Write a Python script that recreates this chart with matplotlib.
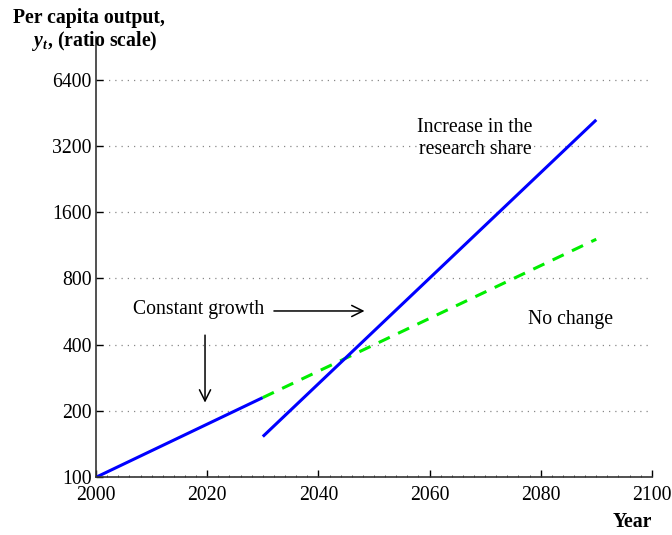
import matplotlib.pyplot as plt
from matplotlib.ticker import FixedLocator, MultipleLocator, NullLocator

# Per capita output paths (ratio scale)
years_before = [2000, 2030]
output_before = [100, 230]

years_no_change = [2030, 2090]
output_no_change = [230, 1205]

years_increase = [2030, 2090]
output_increase = [153, 4200]

y_ticks = [100, 200, 400, 800, 1600, 3200, 6400]
x_ticks = [2000, 2020, 2040, 2060, 2080, 2100]

plt.rcParams['font.family'] = ['Liberation Serif', 'DejaVu Serif']
plt.rcParams['mathtext.fontset'] = 'custom'
plt.rcParams['mathtext.rm'] = 'Liberation Serif'
plt.rcParams['mathtext.it'] = 'Liberation Serif:italic'
plt.rcParams['mathtext.bf'] = 'Liberation Serif:bold'
plt.rcParams['mathtext.bfit'] = 'Liberation Serif:italic:bold'

fs = 14.2

fig = plt.figure(figsize=(6.72, 5.35), dpi=100)
ax = fig.add_axes([0.143, 0.108, 0.827, 0.823])

ax.plot(years_before, output_before, color='#0000ff', lw=2.2, solid_capstyle='butt')
ax.plot(years_no_change, output_no_change, color='#00ee00', lw=2.2, ls=(0, (4, 3)))
ax.plot(years_increase, output_increase, color='#0000ff', lw=2.2, solid_capstyle='butt')

ax.set_yscale('log', base=2)
ax.set_ylim(100, 10000)
ax.set_xlim(2000, 2100)
ax.yaxis.set_major_locator(FixedLocator(y_ticks))
ax.yaxis.set_minor_locator(NullLocator())
ax.set_yticklabels([str(v) for v in y_ticks])
ax.xaxis.set_major_locator(FixedLocator(x_ticks))
ax.xaxis.set_minor_locator(MultipleLocator(2))
ax.tick_params(direction='in', labelsize=fs, length=5, width=1)
ax.tick_params(which='minor', direction='in', length=1.5, width=0.5)
ax.tick_params(axis='x', pad=6)
ax.tick_params(axis='y', pad=3)

for y in y_ticks:
    ax.axhline(y, color='#888888', lw=0.9, ls=(0, (1, 4)), zorder=0)

for side in ['top', 'right']:
    ax.spines[side].set_visible(False)
for side in ['left', 'bottom']:
    ax.spines[side].set_linewidth(1.2)
    ax.spines[side].set_color('#333333')

# Annotations
ax.text(2018.5, 575, 'Constant growth', fontsize=fs, ha='center', va='center')
ax.annotate('', xy=(2048.8, 569), xytext=(2031.5, 569),
            arrowprops=dict(arrowstyle='->', color='black', lw=1.1, mutation_scale=20))
ax.annotate('', xy=(2019.6, 212), xytext=(2019.6, 455),
            arrowprops=dict(arrowstyle='->', color='black', lw=1.1, mutation_scale=20))
ax.text(2068.2, 3450, 'Increase in the\nresearch share', fontsize=fs,
        ha='center', va='center', linespacing=1.25)
ax.text(2085.3, 520, 'No change', fontsize=fs, ha='center', va='center')

fig.text(0.02, 0.985, 'Per capita output,', fontsize=fs, fontweight='bold',
         ha='left', va='top')
fig.text(0.047, 0.945, r'$\mathbfit{y_t}$, (ratio scale)', fontsize=fs,
         fontweight='bold', ha='left', va='top')
fig.text(0.97, 0.005, 'Year', fontsize=fs, fontweight='bold', ha='right', va='bottom')

fig.savefig('out.png', dpi=100)
